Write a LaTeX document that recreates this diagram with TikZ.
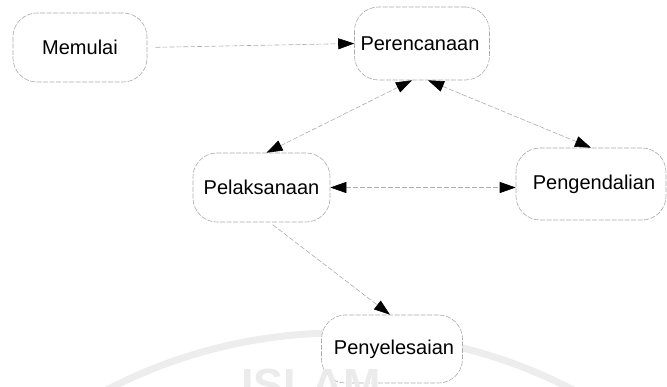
\documentclass[tikz,border=0pt]{standalone}
\usepackage{fontspec}
\setmainfont{Liberation Sans}
\usetikzlibrary{arrows.meta}
\begin{document}
\begin{tikzpicture}[x=1pt,y=-1pt,
  proc/.style={draw=gray!65, line width=0.6pt, dash pattern=on 5pt off 1.5pt,
    rounded corners=24pt, fill=white, inner sep=0pt,
    font=\fontsize{20}{22}\selectfont, text=black},
  conn/.style={draw=gray!65, line width=0.6pt, dash pattern=on 5pt off 2pt},
  head/.style={-{Triangle[length=16pt,width=11pt,color=black]}},
  heads/.style={{Triangle[length=16pt,width=11pt,color=black]}-{Triangle[length=16pt,width=11pt,color=black]}},
  wm/.style={gray!14}
]
\useasboundingbox (0,0) rectangle (667,387);
% faint watermark ring
\begin{scope}
\clip (0,0) rectangle (667,387);
\draw[wm, line width=7pt] (340,838) circle (505pt);
\end{scope}
% nodes
\node[proc, minimum width=134pt, minimum height=69pt] (m) at (80,47.5) {Memulai};
\node[proc, minimum width=135pt, minimum height=73pt] (p) at (422,43.5) {\hspace*{-4pt}Perencanaan};
\node[proc, minimum width=137pt, minimum height=69pt] (l) at (261.5,187.5) {Pelaksanaan};
\node[proc, minimum width=150pt, minimum height=72pt] (g) at (591,184) {\hspace*{6pt}Pengendalian};
\node[proc, minimum width=141pt, minimum height=68pt] (s) at (392,349) {\hspace*{4pt}Penyelesaian};
% watermark letters (cut by the lower edge, as in the reference)
\begin{scope}
\clip (0,0) rectangle (667,387);
\node[anchor=base, text=gray!16, font=\fontsize{45}{50}\selectfont\bfseries] (w) at (311,400) {ISLAM};
\end{scope}
% connectors
\draw[conn, head, shorten <=8pt] (m.east) -- (p.west);
\draw[conn, heads] ([xshift=-10pt]p.south) -- ([xshift=5pt]l.north);
\draw[conn, heads] ([xshift=6pt]p.south) -- (g.north);
\draw[conn, heads] (l.east) -- (l.east -| g.west);
\draw[conn, head, shorten <=4pt] ([xshift=8pt]l.south) -- ([xshift=-2pt]s.north);
\end{tikzpicture}
\end{document}
